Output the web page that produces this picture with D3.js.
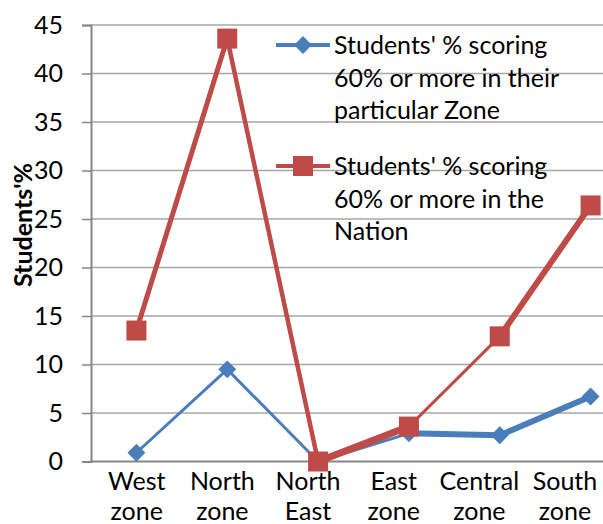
<!DOCTYPE html>
<html><head><meta charset="utf-8">
<script src="https://cdn.jsdelivr.net/npm/d3@7"></script>
<style>
html,body{margin:0;padding:0;background:#fff;}
svg{display:block;}
text{font-family:Lato,"Open Sans",sans-serif;fill:#000;}
</style></head>
<body>
<svg id="chart" width="603" height="524"></svg>
<script>
const categories = [["West","zone"],["North","zone"],["North","East"],["East","zone"],["Central","zone"],["South","zone"]];
const zoneValues = [0.9, 9.5, 0, 2.9, 2.7, 6.7];
const nationValues = [13.5, 43.6, 0, 3.6, 12.9, 26.4];
const yTicks = [0,5,10,15,20,25,30,35,40,45];
const seriesNames = [
  ["Students' % scoring","60% or more in their","particular Zone"],
  ["Students' % scoring","60% or more in the","Nation"]
];
const yLabel = "Students'%";

const blue = "#4a7ebb", red = "#be4b48";
const blueWidths = [3, 3, 3, 6, 6];
const redWidths = [5, 4.5, 7, 3, 6];
const FS = 25;

const svg = d3.select("#chart");
const x = d3.scalePoint().domain(d3.range(categories.length)).range([91, 636]).padding(0.5);
const xLab = d3.scalePoint().domain(d3.range(categories.length)).range([136.7, 565]);
const y = d3.scaleLinear().domain([0,45]).range([461.5, 25]);

// gridlines
svg.append("g").selectAll("line").data(yTicks.filter(d=>d>0)).join("line")
  .attr("x1",91).attr("x2",603).attr("y1",d=>y(d)).attr("y2",d=>y(d))
  .attr("stroke","#a6a6a6").attr("stroke-width",1.5);

// y axis
const yAxis = svg.append("g").attr("transform","translate(91,0)")
  .call(d3.axisLeft(y).tickValues(yTicks).tickSize(9).tickPadding(19));
yAxis.select(".domain").attr("stroke","#868686").attr("stroke-width",2);
yAxis.selectAll(".tick line").attr("stroke","#868686").attr("stroke-width",1.5);
yAxis.selectAll(".tick text").attr("font-size",FS).attr("font-family","Lato").attr("fill","#000");

// x baseline
svg.append("line").attr("x1",91).attr("x2",603).attr("y1",y(0)).attr("y2",y(0))
  .attr("stroke","#868686").attr("stroke-width",2);

// x labels
const xl = svg.append("g").selectAll("text").data(categories).join("text")
  .attr("x",(d,i)=>xLab(i)).attr("y",490).attr("text-anchor","middle").attr("font-size",FS);
xl.selectAll("tspan").data(d=>d).join("tspan")
  .attr("x",function(){return d3.select(this.parentNode).attr("x");})
  .attr("dy",(d,i)=>i===0?0:30).text(d=>d);

// y label
svg.append("text").attr("transform","translate(32,225) rotate(-90)")
  .attr("text-anchor","middle").attr("font-size",FS).attr("font-weight","bold").text(yLabel);

function drawSeries(vals, color, widths){
  const g = svg.append("g");
  g.selectAll("line").data(d3.range(vals.length-1)).join("line")
    .attr("x1",i=>x(i)).attr("y1",i=>y(vals[i]))
    .attr("x2",i=>x(i+1)).attr("y2",i=>y(vals[i+1]))
    .attr("stroke",color).attr("stroke-width",i=>widths[i]).attr("stroke-linecap","round");
  return g;
}
function diamond(g, cx, cy){
  g.append("path").attr("d",d3.symbol(d3.symbolSquare,160)())
   .attr("transform",`translate(${cx},${cy}) rotate(45)`).attr("fill",blue);
}
function square(g, cx, cy){
  g.append("rect").attr("x",cx-10).attr("y",cy-10).attr("width",20).attr("height",20).attr("fill",red);
}

const gb = drawSeries(zoneValues, blue, blueWidths);
const gr = drawSeries(nationValues, red, redWidths);
zoneValues.forEach((v,i)=>diamond(gb, x(i), y(v)));
nationValues.forEach((v,i)=>square(gr, x(i), y(v)));

// legend
const legY = [45, 166];
const lg = svg.append("g");
seriesNames.forEach((lines, k)=>{
  const c = k===0?blue:red;
  lg.append("line").attr("x1",276).attr("x2",330).attr("y1",legY[k]).attr("y2",legY[k])
    .attr("stroke",c).attr("stroke-width",4);
  if(k===0) diamond(lg, 303, legY[k]); else square(lg, 303, legY[k]);
  const t = lg.append("text").attr("x",334).attr("y",legY[k]+9).attr("font-size",FS);
  t.selectAll("tspan").data(lines).join("tspan").attr("x",334).attr("dy",(d,i)=>i===0?0:32.5).text(d=>d);
});
</script>
</body></html>
